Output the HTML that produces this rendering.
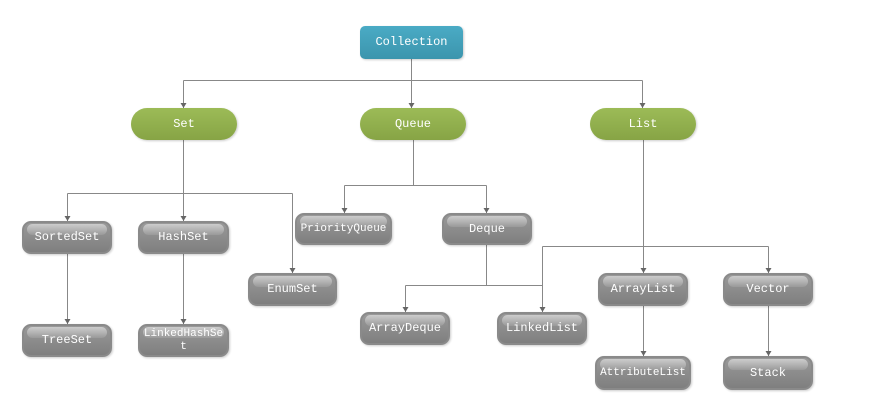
<!DOCTYPE html>
<html><head><meta charset="utf-8"><style>
body{margin:0;width:876px;height:407px;background:#fff;position:relative;overflow:hidden;font-family:"Liberation Mono",monospace;}
svg{position:absolute;left:0;top:0}
.n{position:absolute;box-sizing:border-box;color:#fff;font-size:12px;display:flex;align-items:center;justify-content:center;text-align:center;line-height:13px;}
.g{border:2px solid #8a8a8a;border-radius:9px;background:linear-gradient(#999,#7f7f7f);box-shadow:1px 1px 2px rgba(0,0,0,.2);overflow:hidden;}
.g::before{content:"";position:absolute;left:3px;right:3px;top:1px;height:11px;border-radius:7px;background:linear-gradient(rgba(255,255,255,.5),rgba(255,255,255,.1));}
.g span{position:relative}
.v{border-radius:16px;background:linear-gradient(#9cbb57,#87a445);box-shadow:1px 1px 2px rgba(0,0,0,.2)}
.c{border-radius:5px;background:linear-gradient(#4aabc5,#3c95ad);box-shadow:1px 1px 2px rgba(0,0,0,.2)}
</style></head><body>
<svg width="876" height="407">
<defs><marker id="a" markerWidth="6" markerHeight="6" refX="5" refY="3" orient="auto" markerUnits="userSpaceOnUse"><path d="M0,0 L5,3 L0,6 z" fill="#666"/></marker></defs>
<g stroke="#888" stroke-width="1" fill="none">
<path d="M411.5 59V80.5M183.5 80.5H642.5"/>
<path d="M183.5 80.5V108" marker-end="url(#a)"/>
<path d="M411.5 80.5V108" marker-end="url(#a)"/>
<path d="M642.5 80.5V108" marker-end="url(#a)"/>
<path d="M183.5 140V221" marker-end="url(#a)"/>
<path d="M67.5 193.5H292.5"/>
<path d="M67.5 193.5V221" marker-end="url(#a)"/>
<path d="M292.5 193.5V273" marker-end="url(#a)"/>
<path d="M413.5 140V185.5M344.5 185.5H486.5"/>
<path d="M344.5 185.5V213" marker-end="url(#a)"/>
<path d="M486.5 185.5V213" marker-end="url(#a)"/>
<path d="M67.5 254V324" marker-end="url(#a)"/>
<path d="M183.5 254V324" marker-end="url(#a)"/>
<path d="M486.5 245V285.5M405.5 285.5H542.5"/>
<path d="M405.5 285.5V312" marker-end="url(#a)"/>
<path d="M542.5 246.5H768.5"/>
<path d="M542.5 246.5V312" marker-end="url(#a)"/>
<path d="M643.5 140V273" marker-end="url(#a)"/>
<path d="M768.5 246.5V273" marker-end="url(#a)"/>
<path d="M643.5 306V356" marker-end="url(#a)"/>
<path d="M768.5 306V356" marker-end="url(#a)"/>
</g></svg>
<div class="n c" style="left:360px;top:26px;width:103px;height:33px">Collection</div>
<div class="n v" style="left:131px;top:108px;width:106px;height:32px">Set</div>
<div class="n v" style="left:360px;top:108px;width:106px;height:32px">Queue</div>
<div class="n v" style="left:590px;top:108px;width:106px;height:32px">List</div>
<div class="n g" style="left:22px;top:221px;width:90px;height:33px"><span>SortedSet</span></div>
<div class="n g" style="left:138px;top:221px;width:91px;height:33px"><span>HashSet</span></div>
<div class="n g" style="left:248px;top:273px;width:89px;height:33px"><span>EnumSet</span></div>
<div class="n g" style="left:295px;top:213px;width:97px;height:32px;font-size:11px"><span>PriorityQueue</span></div>
<div class="n g" style="left:442px;top:213px;width:90px;height:32px"><span>Deque</span></div>
<div class="n g" style="left:22px;top:324px;width:90px;height:33px"><span>TreeSet</span></div>
<div class="n g" style="left:138px;top:324px;width:91px;height:33px;font-size:11px"><span>LinkedHashSe<br>t</span></div>
<div class="n g" style="left:360px;top:312px;width:90px;height:33px"><span>ArrayDeque</span></div>
<div class="n g" style="left:497px;top:312px;width:90px;height:33px"><span>LinkedList</span></div>
<div class="n g" style="left:598px;top:273px;width:90px;height:33px"><span>ArrayList</span></div>
<div class="n g" style="left:723px;top:273px;width:90px;height:33px"><span>Vector</span></div>
<div class="n g" style="left:595px;top:356px;width:96px;height:34px;font-size:11px"><span>AttributeList</span></div>
<div class="n g" style="left:723px;top:356px;width:90px;height:34px"><span>Stack</span></div>
</body></html>
